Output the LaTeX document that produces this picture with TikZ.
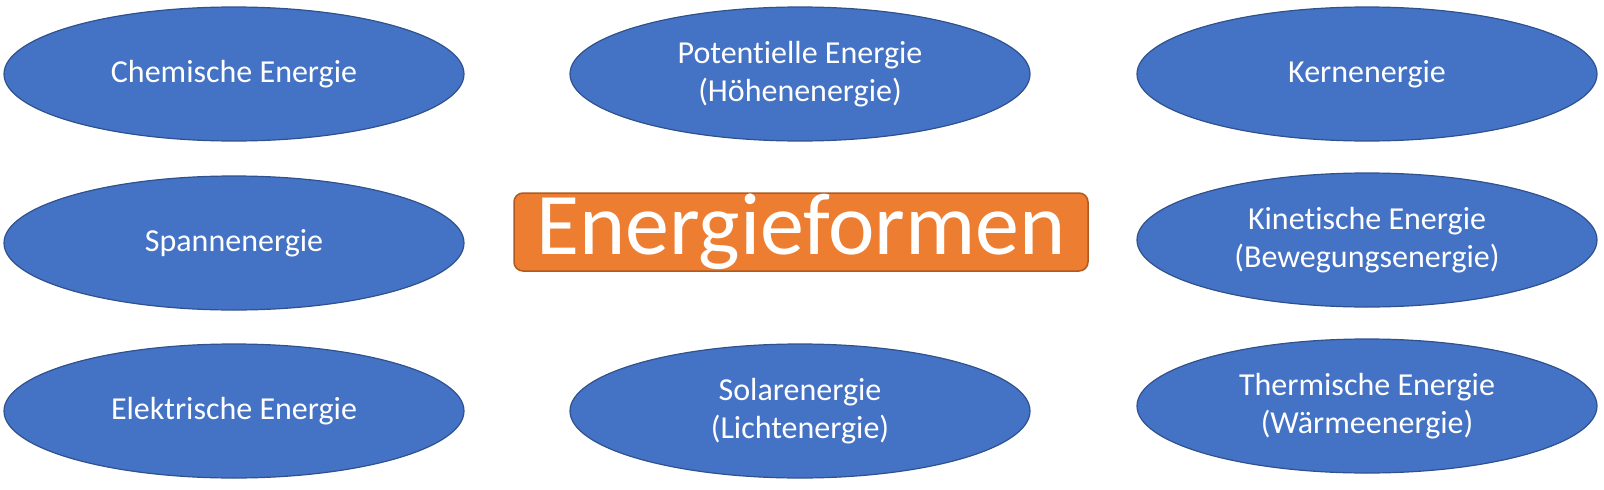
\documentclass[tikz,border=0pt]{standalone}
\usepackage{fontspec}
\setmainfont{Carlito}[Ligatures=NoCommon]
\usepackage{tikz}
\usetikzlibrary{shapes.geometric}
\usepackage{xcolor}
\definecolor{efblue}{RGB}{68,114,196}
\definecolor{efdarkblue}{RGB}{47,82,143}
\definecolor{eforange}{RGB}{237,125,49}
\definecolor{efdarkorange}{RGB}{174,90,33}
\tikzstyle{energyform} = [ellipse, minimum width=460, minimum height=134, inner sep=0pt, align=center, text=white, draw=efdarkblue, fill=efblue, line width=1.2pt, font=\fontsize{32}{38}\selectfont]
\tikzstyle{central} = [rectangle, rounded corners=9pt, minimum width=574, minimum height=78, inner sep=0pt, text=white, draw=efdarkorange, fill=eforange, line width=1.5pt, font=\fontsize{88}{92}\selectfont]

\begin{document}
\begin{tikzpicture}[x=1pt, y=-1pt]
\useasboundingbox (0,0) rectangle (1604,490);

% Left column
\node (chemisch) [energyform] at (234,74) {Chemische Energie};
\node (spann) [energyform] at (234,243) {Spannenergie};
\node (elektrisch) [energyform] at (234,411) {Elektrische Energie};

% Middle column
\node (potentiell) [energyform] at (800,74) {Potentielle Energie\\(Höhenenergie)};
\node (solar) [energyform] at (800,411) {Solarenergie\\(Lichtenergie)};

% Right column
\node (kern) [energyform] at (1367,74) {Kernenergie};
\node (kinetisch) [energyform] at (1367,240) {Kinetische Energie\\(Bewegungsenergie)};
\node (thermisch) [energyform] at (1367,406) {Thermische Energie\\(Wärmeenergie)};

% Central concept
\node (formen) [central] at (801,232) {Energieformen};
\end{tikzpicture}
\end{document}
